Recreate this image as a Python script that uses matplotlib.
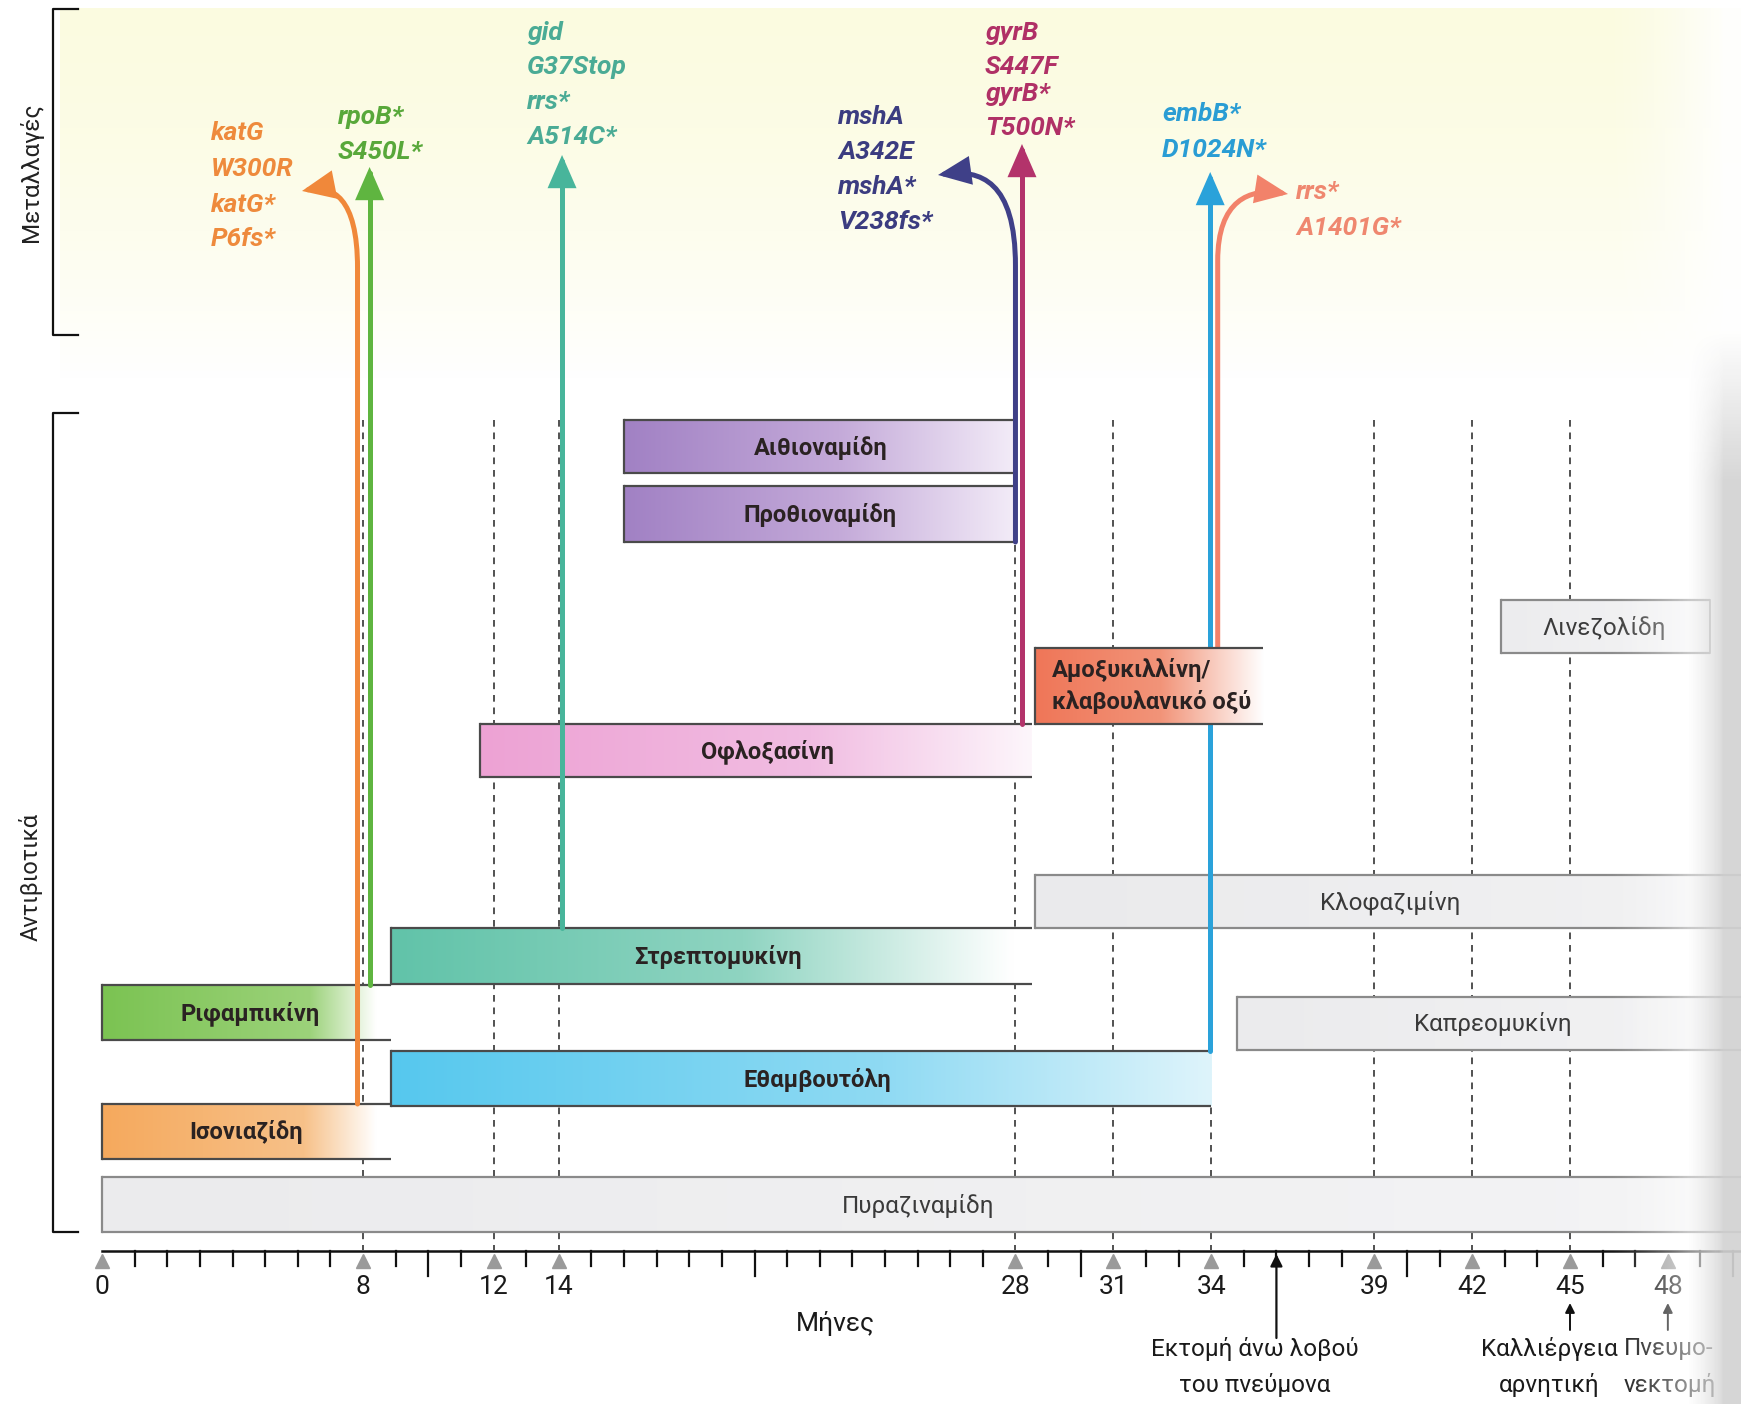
import numpy as np
import matplotlib
matplotlib.use('Agg')
import matplotlib.pyplot as plt
import matplotlib.colors as mcolors
from matplotlib.patches import FancyArrowPatch, ArrowStyle
from matplotlib.path import Path

plt.rcParams['font.family'] = ['Roboto', 'DejaVu Sans']

# ---------------- data ----------------
drugs = ['Αιθιοναμίδη', 'Προθιοναμίδη', 'Λινεζολίδη', 'Αμοξυκιλλίνη/\nκλαβουλανικό οξύ',
         'Οφλοξασίνη', 'Κλοφαζιμίνη', 'Στρεπτομυκίνη', 'Ριφαμπικίνη', 'Καπρεομυκίνη',
         'Εθαμβουτόλη', 'Ισονιαζίδη', 'Πυραζιναμίδη']
drug_start = [16.0, 16.0, 42.9, 28.6, 11.6, 28.6, 8.85, 0.0, 34.8, 8.85, 0.0, 0.0]
drug_end = [28.0, 28.0, 49.3, 35.6, 28.5, 51.0, 28.5, 8.85, 51.0, 34.0, 8.85, 51.0]

marked_months = [0, 8, 12, 14, 28, 31, 34, 39, 42, 45, 48]
dashed_months = [8, 12, 14, 28, 31, 34, 39, 42, 45]
all_months = list(range(0, 51))
long_tick_months = [10, 20, 30, 40, 50]

mutation_labels = [['katG', 'W300R', 'katG*', 'P6fs*'],
                   ['rpoB*', 'S450L*'],
                   ['gid', 'G37Stop', 'rrs*', 'A514C*'],
                   ['mshA', 'A342E', 'mshA*', 'V238fs*'],
                   ['gyrB', 'S447F', 'gyrB*', 'T500N*'],
                   ['embB*', 'D1024N*'],
                   ['rrs*', 'A1401G*']]
mutation_month = [7.83, 8.2, 14.1, 28.0, 28.2, 33.97, 34.2]
mutation_drug = ['Ισονιαζίδη', 'Ριφαμπικίνη', 'Στρεπτομυκίνη', 'Προθιοναμίδη',
                 'Οφλοξασίνη', 'Εθαμβουτόλη', 'Αμοξυκιλλίνη/\nκλαβουλανικό οξύ']

events = ['Εκτομή άνω λοβού\nτου πνεύμονα', 'Καλλιέργεια\nαρνητική', 'Πνευμο-\nνεκτομή']
event_month = [36, 45, 48]

# ---------------- layout (pixel space on y, months on x) ----------------
PX0, PPM = 102.1, 32.62
def mx(px):
    return (px - PX0) / PPM

lane_top = [420, 486, 600, 648, 724, 875, 928, 985, 997, 1051, 1104, 1177]
lane_bot = [473, 542, 653, 724, 777, 928, 984, 1040, 1050, 1106, 1159, 1232]
label_px = [821, 820, 1604, 1052, 768, 1390, 718, 250, 1493, 817, 246, 918]
bar_layer = [2, 2, 2, 6, 2, 2, 2, 2, 2, 2, 2, 2]

bar_stops = [
    [(0, '#a181c4'), (0.55, '#c4aad9'), (1, '#f3ecf8')],
    [(0, '#a181c4'), (0.55, '#c4aad9'), (1, '#f3ecf8')],
    [(0, '#ececee'), (1, '#f4f4f5')],
    [(0, '#ef7658'), (0.55, '#f29479'), (1, '#ffffff')],
    [(0, '#eda2d4'), (0.6, '#f1bde2'), (1, '#fdf6fb')],
    [(0, '#eaeaec'), (1, '#f2f2f3')],
    [(0, '#61c3a9'), (0.55, '#8fd4c1'), (0.97, '#ffffff'), (1, '#ffffff')],
    [(0, '#7bc352'), (0.72, '#9cd27a'), (0.95, '#ffffff'), (1, '#ffffff')],
    [(0, '#ebebed'), (1, '#f3f3f4')],
    [(0, '#56c8ee'), (0.6, '#8fdaf3'), (1, '#def4fb')],
    [(0, '#f5a95d'), (0.7, '#f7c189'), (0.95, '#ffffff'), (1, '#ffffff')],
    [(0, '#ebebed'), (1, '#f4f4f5')],
]
bar_bold = [True, True, False, True, True, False, True, True, False, True, True, False]

mut_colors = ['#f0883a', '#5fb540', '#48b59b', '#3f4088', '#b3336b', '#2aa2da', '#f2826a']
mut_text_colors = ['#ee8a3c', '#58a83a', '#4aab95', '#3b3c80', '#b03066', '#2a9dd4', '#ef876f']
mut_text_x = [211, 338, 527, 838, 985, 1162, 1296]
mut_text_y = [[133, 169, 205, 239], [117, 152], [33, 67, 102, 137],
              [117, 152, 187, 222], [33, 67, 94, 128], [114, 150], [192, 228]]
mut_tip = [(302, 191), (None, 167), (None, 155), (938, 175), (None, 144), (None, 172), (1288, 194)]
mut_bend = [268, None, None, 266, None, None, 261]
mut_from_bottom = [False, False, False, True, False, False, False]

FS_MUT = 19
FS_BOLD = 17
FS_REG = 17.5
FS_TICK = 19
FS_EVENT = 17.5

fig = plt.figure(figsize=(17.41, 14.04), dpi=100)
ax = fig.add_axes([0, 0, 1, 1])
ax.axis('off')

# yellow tint of the top part
ny = 200
tint = np.ones((ny, 2, 4))
tint[:, :, 0] = 0.985
tint[:, :, 1] = 0.985
tint[:, :, 2] = 0.87
a = np.clip(1 - np.linspace(0, 1, ny) ** 1.6, 0, 1) * 0.9
tint[:, :, 3] = a[:, None]
ax.imshow(tint, extent=[mx(60), mx(1741), 380, 8], aspect='auto', zorder=0,
          interpolation='bilinear')

# dashed guides
for m in dashed_months:
    ax.plot([m, m], [420, 1250], color='#333333', lw=1.2, ls=(0, (4, 3.5)), zorder=1)

# bars
def gradient_bar(i):
    z = bar_layer[i]
    x0, x1 = drug_start[i], drug_end[i]
    yt, yb = lane_top[i], lane_bot[i]
    stops = bar_stops[i]
    t = np.linspace(0, 1, 300)
    pos = [s[0] for s in stops]
    cols = np.array([mcolors.to_rgb(s[1]) for s in stops])
    rgb = np.stack([np.interp(t, pos, cols[:, k]) for k in range(3)], axis=-1)
    ax.imshow(rgb[None, :, :], extent=[x0, x1, yb, yt], aspect='auto',
              interpolation='bilinear', zorder=z)
    ec = '#4a4a4a' if bar_bold[i] else '#8a8a8a'
    ax.plot([x0, x1], [yt, yt], color=ec, lw=1.6, zorder=z + 1, solid_capstyle='butt')
    ax.plot([x0, x1], [yb, yb], color=ec, lw=1.6, zorder=z + 1, solid_capstyle='butt')
    ax.plot([x0, x0], [yt, yb], color=ec, lw=1.6, zorder=z + 1)
    if drugs[i] == 'Λινεζολίδη':
        ax.plot([x1, x1], [yt, yb], color=ec, lw=1.2, zorder=z + 1)
    yc = (yt + yb) / 2
    tz = max(5, z + 2)
    if bar_bold[i]:
        if '\n' in drugs[i]:
            l1, l2 = drugs[i].split('\n')
            ax.text(mx(label_px[i]), yc - 16, l1, ha='left', va='center', fontsize=FS_BOLD,
                    fontweight='bold', color='#2a2222', zorder=tz)
            ax.text(mx(label_px[i]), yc + 16, l2, ha='left', va='center', fontsize=FS_BOLD,
                    fontweight='bold', color='#2a2222', zorder=tz)
        else:
            ax.text(mx(label_px[i]), yc + 1, drugs[i], ha='center', va='center',
                    fontsize=FS_BOLD, fontweight='bold', color='#2a2222', zorder=tz)
    else:
        ax.text(mx(label_px[i]), yc + 1, drugs[i], ha='center', va='center', fontsize=FS_REG,
                color='#3a3a3a', zorder=tz)

for i in range(len(drugs)):
    gradient_bar(i)

# mutation arrows
style = ArrowStyle('-|>', head_length=0.55, head_width=0.24)
for k in range(len(mutation_labels)):
    m = mutation_month[k]
    di = drugs.index(mutation_drug[k])
    y0 = lane_bot[di] if mut_from_bottom[k] else lane_top[di]
    tipx, tipy = mut_tip[k]
    if tipx is None:
        verts = [(m, y0), (m, tipy)]
        codes = [Path.MOVETO, Path.LINETO]
    else:
        tx = mx(tipx)
        yb = mut_bend[k]
        verts = [(m, y0), (m, yb), (m, tipy + 6), (m + (tx - m) * 0.45, tipy - 6), (tx, tipy)]
        codes = [Path.MOVETO, Path.LINETO, Path.CURVE4, Path.CURVE4, Path.CURVE4]
    arr = FancyArrowPatch(path=Path(verts, codes), arrowstyle=style, mutation_scale=32,
                          color=mut_colors[k], lw=3.6, zorder=4, joinstyle='miter')
    ax.add_patch(arr)
    for line, yy in zip(mutation_labels[k], mut_text_y[k]):
        ax.text(mx(mut_text_x[k]), yy, line, ha='left', va='center', fontsize=FS_MUT,
                fontweight='bold', fontstyle='italic', color=mut_text_colors[k], zorder=5)

# time axis
AXY = 1251
X1 = mx(1741)
ax.plot([0, X1], [AXY, AXY], color='#111111', lw=1.8, zorder=3)
for m in all_months:
    if m in marked_months:
        continue
    ln = 25 if m in long_tick_months else 15
    ax.plot([m, m], [AXY, AXY + ln], color='#111111', lw=1.6, zorder=3)
ax.plot(marked_months, [AXY + 10] * len(marked_months), ls='none', marker='^',
        ms=10, color='#9a9a9a', zorder=3)
for m in marked_months:
    ax.text(m, 1287, str(m), ha='center', va='center', fontsize=FS_TICK, color='#1a1a1a',
            zorder=5)
ax.text(mx(835), 1323, 'Μήνες', ha='center', va='center', fontsize=FS_TICK, color='#1a1a1a')

# events
for ev, m in zip(events, event_month):
    if m == 36:
        ax.annotate('', xy=(m, 1254), xytext=(m, 1338),
                    arrowprops=dict(arrowstyle='-|>', color='#111111', lw=1.6,
                                    mutation_scale=18, shrinkA=0, shrinkB=0))
    else:
        ax.annotate('', xy=(m, 1303), xytext=(m, 1330),
                    arrowprops=dict(arrowstyle='-|>', color='#111111', lw=1.4,
                                    mutation_scale=14, shrinkA=0, shrinkB=0))
ev_pos = [(1255, 'center'), (1549, 'center'), (1624, 'left')]
for ev, (px, ha) in zip(events, ev_pos):
    l1, l2 = ev.split('\n')
    ax.text(mx(px), 1349, l1, ha=ha, va='center', fontsize=FS_EVENT, color='#1a1a1a')
    ax.text(mx(px), 1385, l2, ha=ha, va='center', fontsize=FS_EVENT, color='#1a1a1a')

# brackets and section labels
for (ya, yb_) in [(9, 335), (413, 1232)]:
    ax.plot([mx(78), mx(53), mx(53), mx(78)], [ya, ya, yb_, yb_], color='#111111', lw=1.6,
            zorder=3)
ax.text(mx(31), 172, 'Μεταλλαγές', rotation=90, ha='center', va='center', fontsize=17.5,
        color='#222222')
ax.text(mx(31), 877, 'Αντιβιοτικά', rotation=90, ha='center', va='center', fontsize=17,
        color='#222222')

# page fade at the right edge
H = 1404
xs = np.arange(1560, 1741)
ov = np.ones((H, len(xs), 4))
alpha_x = np.clip((xs - 1600) / (1715 - 1600), 0, 1) ** 1.5 * 0.8
yy = np.arange(H)
shade = np.clip((yy - 330) / 150, 0, 1)
edge_w = np.clip((xs - 1688) / 35, 0, 1)
g = 1 - 0.17 * shade[:, None] * edge_w[None, :]
for c in range(3):
    ov[:, :, c] = g
ov[:, :, 3] = np.maximum(alpha_x[None, :], 0.92 * edge_w[None, :])
ax.imshow(ov, extent=[mx(1560), mx(1741), H, 0], aspect='auto', zorder=10,
          interpolation='bilinear')

ax.set_xlim(mx(0), mx(1741))
ax.set_ylim(1404, 0)
fig.savefig('out.png', dpi=100)
